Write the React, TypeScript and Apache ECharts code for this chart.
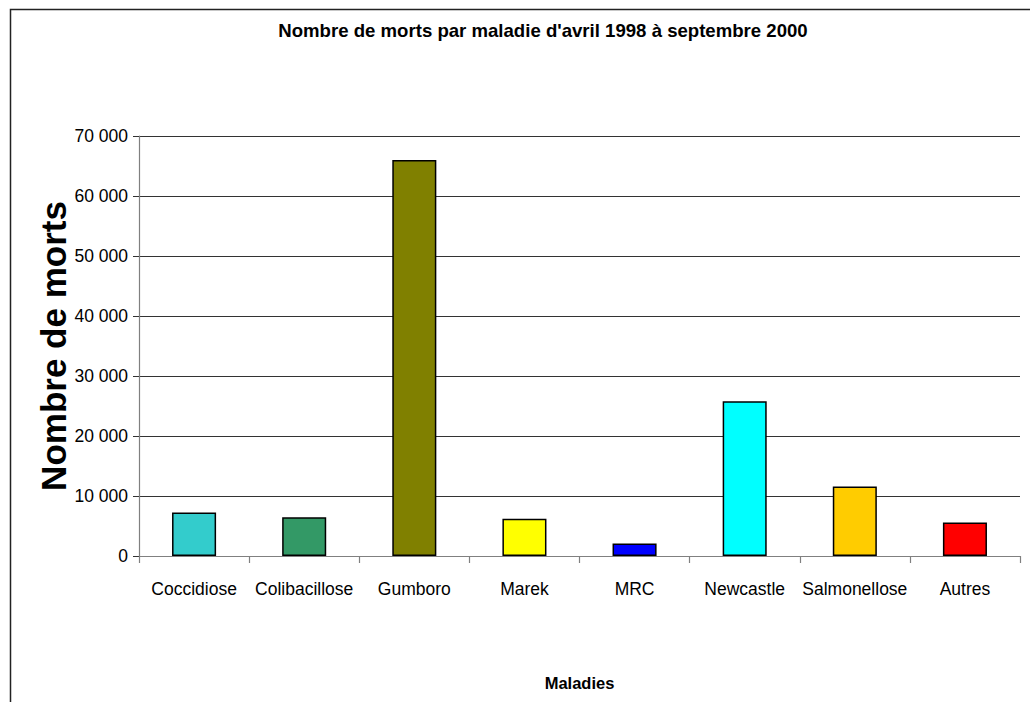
import React, { useEffect, useRef } from "react";
import * as echarts from "echarts";

const categories = [
  "Coccidiose",
  "Colibacillose",
  "Gumboro",
  "Marek",
  "MRC",
  "Newcastle",
  "Salmonellose",
  "Autres",
];
const deaths = [7250, 6450, 66000, 6200, 2100, 25800, 11600, 5600];
const barColors = [
  "#33CCCC",
  "#339966",
  "#808000",
  "#FFFF00",
  "#0000FF",
  "#00FFFF",
  "#FFCC00",
  "#FF0000",
];
const titleText = "Nombre de morts par maladie d'avril 1998 à septembre 2000";
const yAxisTitle = "Nombre de morts";
const xAxisTitle = "Maladies";
const yMin = 0;
const yMax = 70000;
const yStep = 10000;

const fmt = (v: number) => {
  const s = String(Math.round(v));
  return s.replace(/\B(?=(\d{3})+(?!\d))/g, " ");
};

export default function App() {
  const ref = useRef<HTMLDivElement>(null);
  useEffect(() => {
    if (!ref.current) return;
    const chart = echarts.init(ref.current, null, { renderer: "svg" });
    const font = "'Liberation Sans', Arial, sans-serif";
    chart.setOption({
      animation: false,
      backgroundColor: "#ffffff",
      textStyle: { fontFamily: font },
      title: {
        text: titleText,
        left: 538,
        top: 16,
        textAlign: "center",
        textStyle: {
          fontFamily: font,
          fontSize: 18.6,
          fontWeight: "bold",
          color: "#000",
        },
      },
      graphic: [
        {
          type: "rect",
          shape: { x: 10.5, y: 9.5, width: 1100, height: 800 },
          style: { fill: "none", stroke: "#222", lineWidth: 1.5 },
          silent: true,
        },
      ],
      grid: { left: 139, right: 10, top: 136, bottom: 146, containLabel: false },
      xAxis: {
        type: "category",
        data: categories,
        name: xAxisTitle,
        nameLocation: "middle",
        nameGap: 118,
        nameMoveOverlap: false,
        nameTextStyle: {
          fontFamily: font,
          fontSize: 16.5,
          fontWeight: "bold",
          color: "#000",
        },
        axisLine: { lineStyle: { color: "#808080", width: 1.2 } },
        axisTick: { show: true, length: 7, lineStyle: { color: "#808080", width: 1.2 } },
        axisLabel: {
          margin: 24,
          fontFamily: font,
          fontSize: 17.5,
          color: "#000",
          interval: 0,
        },
      },
      yAxis: {
        type: "value",
        min: yMin,
        max: yMax,
        interval: yStep,
        name: yAxisTitle,
        nameLocation: "middle",
        nameGap: 68,
        nameMoveOverlap: false,
        nameRotate: 90,
        nameTextStyle: {
          fontFamily: font,
          fontSize: 35,
          fontWeight: "bold",
          color: "#000",
        },
        axisLine: { show: true, lineStyle: { color: "#808080", width: 1.2 } },
        axisTick: { show: true, length: 6, lineStyle: { color: "#333", width: 1 } },
        axisLabel: {
          margin: 11,
          fontFamily: font,
          fontSize: 17.5,
          color: "#000",
          formatter: (v: number) => fmt(v),
        },
        splitLine: { show: true, lineStyle: { color: "#333", width: 1 } },
      },
      series: [
        {
          type: "bar",
          data: deaths.map((v, i) => ({
            value: v,
            itemStyle: { color: barColors[i] },
          })),
          barWidth: "40%",
          itemStyle: { borderColor: "#000", borderWidth: 1.5 },
        },
      ],
    });
    return () => chart.dispose();
  }, []);
  return (
    <div
      ref={ref}
      style={{ position: "absolute", left: 0, top: 0, width: 1030, height: 702 }}
    />
  );
}
